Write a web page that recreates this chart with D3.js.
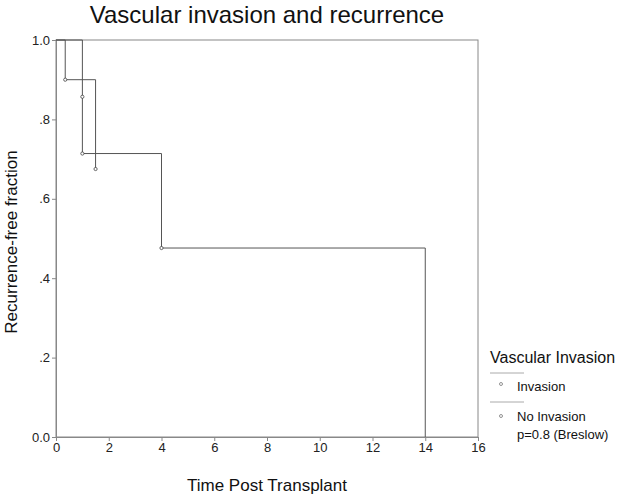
<!DOCTYPE html>
<html><head><meta charset="utf-8">
<script src="https://cdn.jsdelivr.net/npm/d3@7"></script>
<style>body{margin:0;background:#fff}svg{display:block;font-family:"Liberation Sans",Arial,sans-serif}</style>
</head><body><svg id="c" width="624" height="498"></svg>
<script>
// Data
const seriesNames = ["Invasion", "No Invasion"];
const invasionTimes = [0, 1, 1, 4, 14];
const invasionSurv = [1.0, 0.857, 0.714, 0.476, 0.0];
const invasionEnd = 14;
const invasionCensorT = [1, 1, 4];
const invasionCensorS = [0.857, 0.714, 0.476];
const noInvTimes = [0, 0.35, 1.5];
const noInvSurv = [1.0, 0.9, 0.675];
const noInvEnd = 1.5;
const noInvCensorT = [0.35, 1.5];
const noInvCensorS = [0.9, 0.675];
const xTicks = [0, 2, 4, 6, 8, 10, 12, 14, 16];
const yTicks = [0, 0.2, 0.4, 0.6, 0.8, 1.0];
const yTickLabels = ["0.0", ".2", ".4", ".6", ".8", "1.0"];

const svg = d3.select("#c");
const L = 56, R = 478, T = 40, B = 437;
const x = d3.scaleLinear().domain([0, 16]).range([L, R]);
const y = d3.scaleLinear().domain([0, 1]).range([B, T]);
const stroke = "#555";

// frame
svg.append("rect").attr("x", L).attr("y", T).attr("width", R - L).attr("height", B - T)
  .attr("fill", "none").attr("stroke", "#888").attr("stroke-width", 1);

const xAxis = svg.append("g").attr("transform", `translate(0,${B})`)
  .call(d3.axisBottom(x).tickValues(xTicks).tickSize(4).tickPadding(2));
const yAxis = svg.append("g").attr("transform", `translate(${L},0)`)
  .call(d3.axisLeft(y).tickValues(yTicks).tickFormat((d, i) => yTickLabels[i]).tickSize(4).tickPadding(2));
[xAxis, yAxis].forEach(g => {
  g.select(".domain").attr("stroke", "#888");
  g.selectAll(".tick line").attr("stroke", "#888");
  g.selectAll("text").attr("font-size", 13).attr("fill", "#222")
    .attr("font-family", "'Liberation Sans',Arial,sans-serif");
});

function stepPath(times, surv, end) {
  const pts = [];
  for (let i = 0; i < times.length; i++) {
    if (i > 0) pts.push([times[i], surv[i - 1]]);
    pts.push([times[i], surv[i]]);
  }
  pts.push([end, surv[surv.length - 1]]);
  return d3.line().x(d => x(d[0])).y(d => y(d[1]))(pts);
}
svg.append("path").attr("d", stepPath(invasionTimes, invasionSurv, invasionEnd))
  .attr("fill", "none").attr("stroke", stroke).attr("stroke-width", 1);
svg.append("path").attr("d", stepPath(noInvTimes, noInvSurv, noInvEnd))
  .attr("fill", "none").attr("stroke", stroke).attr("stroke-width", 1);

function markers(ts, ss) {
  ts.forEach((t, i) => {
    svg.append("circle").attr("cx", x(t)).attr("cy", y(ss[i])).attr("r", 1.6)
      .attr("fill", "#fff").attr("stroke", "#444").attr("stroke-width", 0.8);
  });
}
markers(invasionCensorT, invasionCensorS);
markers(noInvCensorT, noInvCensorS);

// titles
svg.append("text").attr("x", 267).attr("y", 23).attr("text-anchor", "middle")
  .attr("font-size", 24).attr("fill", "#111").text("Vascular invasion and recurrence");
svg.append("text").attr("transform", "translate(17,242) rotate(-90)").attr("text-anchor", "middle")
  .attr("font-size", 17).attr("fill", "#111").text("Recurrence-free fraction");
svg.append("text").attr("x", 267).attr("y", 491).attr("text-anchor", "middle")
  .attr("font-size", 17).attr("fill", "#111").text("Time Post Transplant");

// legend
svg.append("text").attr("x", 490).attr("y", 363).attr("font-size", 16).attr("fill", "#111").text("Vascular Invasion");
const leg = [{ly: 373, my: 384, ty: 391}, {ly: 402, my: 416, ty: 421}];
seriesNames.forEach((n, i) => {
  svg.append("line").attr("x1", 490).attr("x2", 524).attr("y1", leg[i].ly).attr("y2", leg[i].ly)
    .attr("stroke", "#aaa").attr("stroke-width", 1);
  svg.append("circle").attr("cx", 501).attr("cy", leg[i].my).attr("r", 1.5)
    .attr("fill", "#fff").attr("stroke", "#666").attr("stroke-width", 0.7);
  svg.append("text").attr("x", 517).attr("y", leg[i].ty).attr("font-size", 13).attr("fill", "#111").text(n);
});
svg.append("text").attr("x", 517).attr("y", 439).attr("font-size", 13).attr("fill", "#111").text("p=0.8 (Breslow)");
</script></body></html>
